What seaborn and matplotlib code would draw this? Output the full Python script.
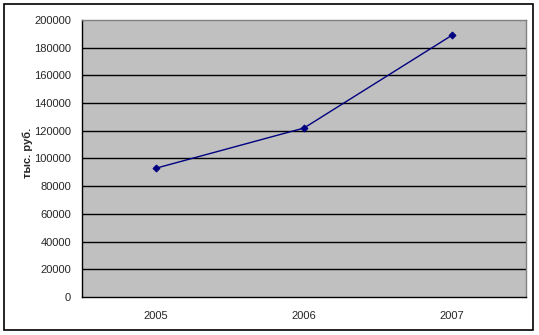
import matplotlib
matplotlib.use("Agg")
import matplotlib.pyplot as plt
import seaborn as sns
import pandas as pd
from matplotlib.patches import Rectangle

years = ["2005", "2006", "2007"]
values = [93000, 122000, 189000]
y_ticks = [0, 20000, 40000, 60000, 80000, 100000, 120000, 140000, 160000, 180000, 200000]

sns.set_style("white")
plt.rcParams['font.family'] = ['Liberation Sans', 'DejaVu Sans']

df = pd.DataFrame({"pos": list(range(len(years))), "value": values})

fig = plt.figure(figsize=(5.39, 3.35), dpi=100)
ax = fig.add_axes([82/539, 1-297/335, (526-82)/539, (297-20)/335])
ax.set_facecolor("#C0C0C0")

for t in y_ticks[1:-1]:
    ax.axhline(t, color="black", lw=1, zorder=1)

sns.lineplot(data=df, x="pos", y="value", ax=ax, color="#000080", lw=1,
             marker="D", markersize=3.5, markeredgecolor="#000080", zorder=3)

ax.set_xlim(-0.5, len(years)-0.5)
ax.set_ylim(0, 200000)
ax.set_yticks(y_ticks)
ax.set_yticklabels([str(t) for t in y_ticks], fontsize=8)
ax.set_xticks(range(len(years)))
ax.set_xticklabels(years, fontsize=8)
ax.tick_params(axis="x", length=0, pad=10)
ax.set_xticks([-0.5 + i for i in range(len(years)+1)], minor=True)
ax.tick_params(axis="x", which="minor", length=4, direction="out", color="black", width=1)
ax.tick_params(axis="y", length=4, direction="out", color="black", width=1, pad=4)
ax.set_xlabel("")
ax.set_ylabel("тыс. руб.", fontsize=8, fontweight="bold")
ax.yaxis.set_label_coords(-49/444, 0.52)

for s in ["left", "bottom"]:
    ax.spines[s].set_color("black")
    ax.spines[s].set_linewidth(1)
for s in ["top", "right"]:
    ax.spines[s].set_color("#808080")
    ax.spines[s].set_linewidth(1)

fig.patches.append(Rectangle((4/539, 1-330/335), (533-4)/539, (330-4)/335,
                             transform=fig.transFigure, fill=False,
                             edgecolor="black", lw=1.2))

fig.savefig("out.png", dpi=100)
